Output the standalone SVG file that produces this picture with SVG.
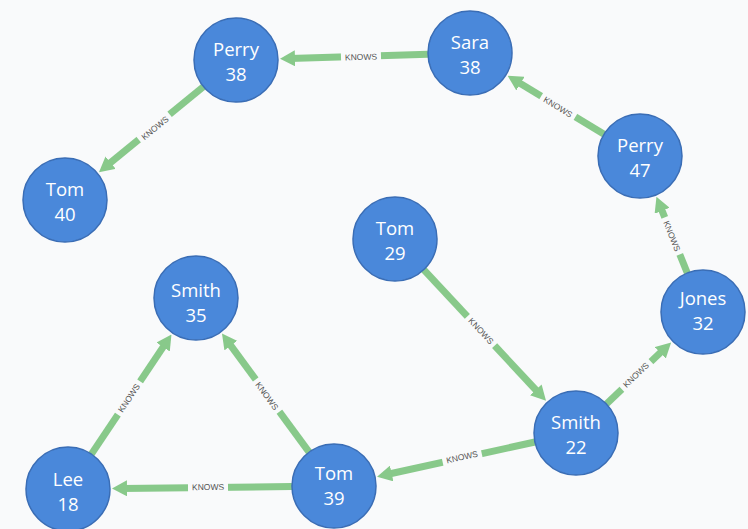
<svg xmlns="http://www.w3.org/2000/svg" width="748" height="529" viewBox="0 0 748 529">
<style>
.bg{fill:#f9fafb}
.node circle{fill:#4a88da;stroke:#3a6db5;stroke-width:1.5}
.node text{fill:#ffffff;font-family:"Open Sans","Noto Sans",sans-serif;font-size:18.5px;text-anchor:middle;dominant-baseline:central}
.edge{stroke:#88c98a;stroke-width:7;fill:none;marker-end:url(#arr)}
.lbl rect{fill:#f9fafb}
.lbl text{fill:#555;font-family:"Liberation Sans",Arial,sans-serif;font-size:8.5px;text-anchor:middle;dominant-baseline:central}
</style>
<defs>
<marker id="arr" viewBox="0 0 15 16" markerWidth="15" markerHeight="16" refX="5" refY="8" orient="auto" markerUnits="userSpaceOnUse">
<path d="M0,0 L15,8 L0,16 z" fill="#88c98a"/>
</marker>
</defs>
<rect class="bg" x="0" y="0" width="748" height="529"/>
<g id="connectors">
<path class="edge" d="M428,54.3 L290,58.4"/>
<path class="edge" d="M203.5,86.6 L106.7,165.8"/>
<path class="edge" d="M604.1,134.2 L516.2,81"/>
<path class="edge" d="M687.3,273 L660.2,206.1"/>
<path class="edge" d="M606.4,404 L663.9,349.3"/>
<path class="edge" d="M423.7,269.7 L539.2,393.5"/>
<path class="edge" d="M535,442 L386.8,474.5"/>
<path class="edge" d="M292,486.5 L122,488.4"/>
<path class="edge" d="M91.4,454.1 L165.9,342.9"/>
<path class="edge" d="M309.1,452.1 L227.9,341.6"/>
<g class="lbl" transform="translate(361,57) rotate(-1.7)"><rect x="-20" y="-6" width="40" height="12"/><text>KNOWS</text></g>
<g class="lbl" transform="translate(155,128) rotate(-39.3)"><rect x="-20" y="-6" width="40" height="12"/><text>KNOWS</text></g>
<g class="lbl" transform="translate(558,107) rotate(31.2)"><rect x="-20" y="-6" width="40" height="12"/><text>KNOWS</text></g>
<g class="lbl" transform="translate(672,236) rotate(68)"><rect x="-20" y="-6" width="40" height="12"/><text>KNOWS</text></g>
<g class="lbl" transform="translate(636,375) rotate(-43.6)"><rect x="-20" y="-6" width="40" height="12"/><text>KNOWS</text></g>
<g class="lbl" transform="translate(481,331) rotate(47)"><rect x="-20" y="-6" width="40" height="12"/><text>KNOWS</text></g>
<g class="lbl" transform="translate(462,457) rotate(-12.4)"><rect x="-20" y="-6" width="40" height="12"/><text>KNOWS</text></g>
<g class="lbl" transform="translate(208,487) rotate(-0.6)"><rect x="-20" y="-6" width="40" height="12"/><text>KNOWS</text></g>
<g class="lbl" transform="translate(129,398) rotate(-56.2)"><rect x="-20" y="-6" width="40" height="12"/><text>KNOWS</text></g>
<g class="lbl" transform="translate(267,396) rotate(53.7)"><rect x="-20" y="-6" width="40" height="12"/><text>KNOWS</text></g>
</g>
<g id="perry38" class="node"><circle cx="236" cy="60" r="42"/><text x="236" y="48">Perry</text><text x="236" y="73">38</text></g>
<g id="sara38" class="node"><circle cx="470" cy="53" r="42"/><text x="470" y="41">Sara</text><text x="470" y="66">38</text></g>
<g id="tom40" class="node"><circle cx="65" cy="200" r="42"/><text x="65" y="188">Tom</text><text x="65" y="213">40</text></g>
<g id="perry47" class="node"><circle cx="640" cy="156" r="42"/><text x="640" y="144">Perry</text><text x="640" y="169">47</text></g>
<g id="tom29" class="node"><circle cx="395" cy="239" r="42"/><text x="395" y="227">Tom</text><text x="395" y="252">29</text></g>
<g id="jones32" class="node"><circle cx="703" cy="312" r="42"/><text x="703" y="297">Jones</text><text x="703" y="322">32</text></g>
<g id="smith35" class="node"><circle cx="196" cy="298" r="42"/><text x="196" y="289">Smith</text><text x="196" y="314">35</text></g>
<g id="smith22" class="node"><circle cx="576" cy="433" r="42"/><text x="576" y="421">Smith</text><text x="576" y="446">22</text></g>
<g id="lee18" class="node"><circle cx="68" cy="489" r="42"/><text x="68" y="478">Lee</text><text x="68" y="503">18</text></g>
<g id="tom39" class="node"><circle cx="334" cy="486" r="42"/><text x="334" y="472">Tom</text><text x="334" y="497">39</text></g>
</svg>
